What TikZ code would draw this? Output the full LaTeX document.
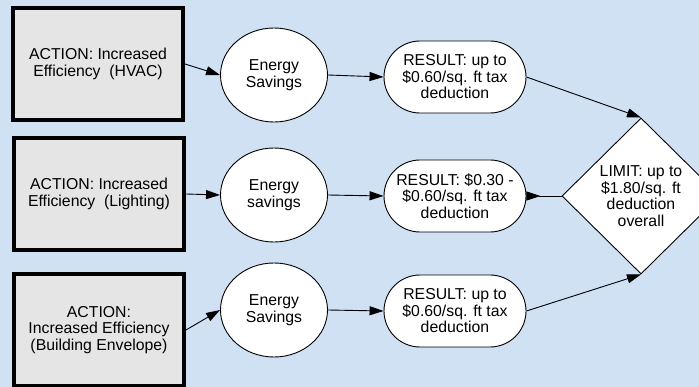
\documentclass[tikz,border=0pt]{standalone}
\usepackage{fontspec}
\setmainfont{Liberation Sans}
\usetikzlibrary{shapes.geometric,arrows.meta}
\definecolor{bgblue}{RGB}{207,225,242}
\definecolor{boxgray}{RGB}{229,229,229}

\begin{document}
\begin{tikzpicture}[x=1pt,y=-1pt,line width=0.9pt,
		>={Triangle[length=14pt,width=9pt]},
		every node/.style={font=\fontsize{15.8}{16.5}\selectfont,align=center},
		action/.style={draw,line width=4pt,fill=boxgray,minimum width=170pt,minimum height=112pt},
		saving/.style={draw,ellipse,fill=white,minimum width=107pt,minimum height=94pt,inner sep=0pt},
		result/.style={draw,fill=white,rounded corners=36pt,minimum width=142pt,minimum height=72pt},
		limit/.style={draw,diamond,fill=white,minimum width=158pt,minimum height=156pt,inner sep=0pt}]
		\fill[bgblue] (0,0) rectangle (699,387);
		\useasboundingbox (0,0) rectangle (699,387);
		\node[action] (a1) at (98,64) {ACTION: Increased\\Efficiency\ \ (HVAC)};
		\node[action] (a2) at (99,194) {ACTION: Increased\\Efficiency\ \ (Lighting)};
		\node[action] (a3) at (99,330) {ACTION:\\Increased Efficiency\\(Building Envelope)};
		\node[saving] (e1) at (274,75) {Energy\\Savings};
		\node[saving] (e2) at (274,195) {Energy\\savings};
		\node[saving] (e3) at (274,310) {Energy\\Savings};
		\node[result] (r1) at (455,77) {RESULT: up to\\\$0.60/sq. ft tax\\deduction};
		\node[result] (r2) at (455,196) {RESULT: \$0.30 -\\\$0.60/sq. ft tax\\deduction};
		\node[result] (r3) at (455,311) {RESULT: up to\\\$0.60/sq. ft tax\\deduction};
		\node[limit] (lim) at (641,196) {LIMIT: up to\\\$1.80/sq. ft\\deduction\\overall};
		\draw [->] (a1.east) -- (e1.west);
		\draw [->] (a2.east) -- (e2.west);
		\draw [->] (a3.east) -- (e3.west);
		\draw [->] (e1.east) -- (r1.west);
		\draw [->] (e2.east) -- (r2.west);
		\draw [->] (e3.east) -- (r3.west);
		\draw [->] (r1.east) -- (lim.north);
		\draw [{Triangle[reversed,length=14pt,width=9pt]}-] (r2.east) -- (lim.west);
		\draw [->] (r3.east) -- (lim.south);
	\end{tikzpicture}
\end{document}
